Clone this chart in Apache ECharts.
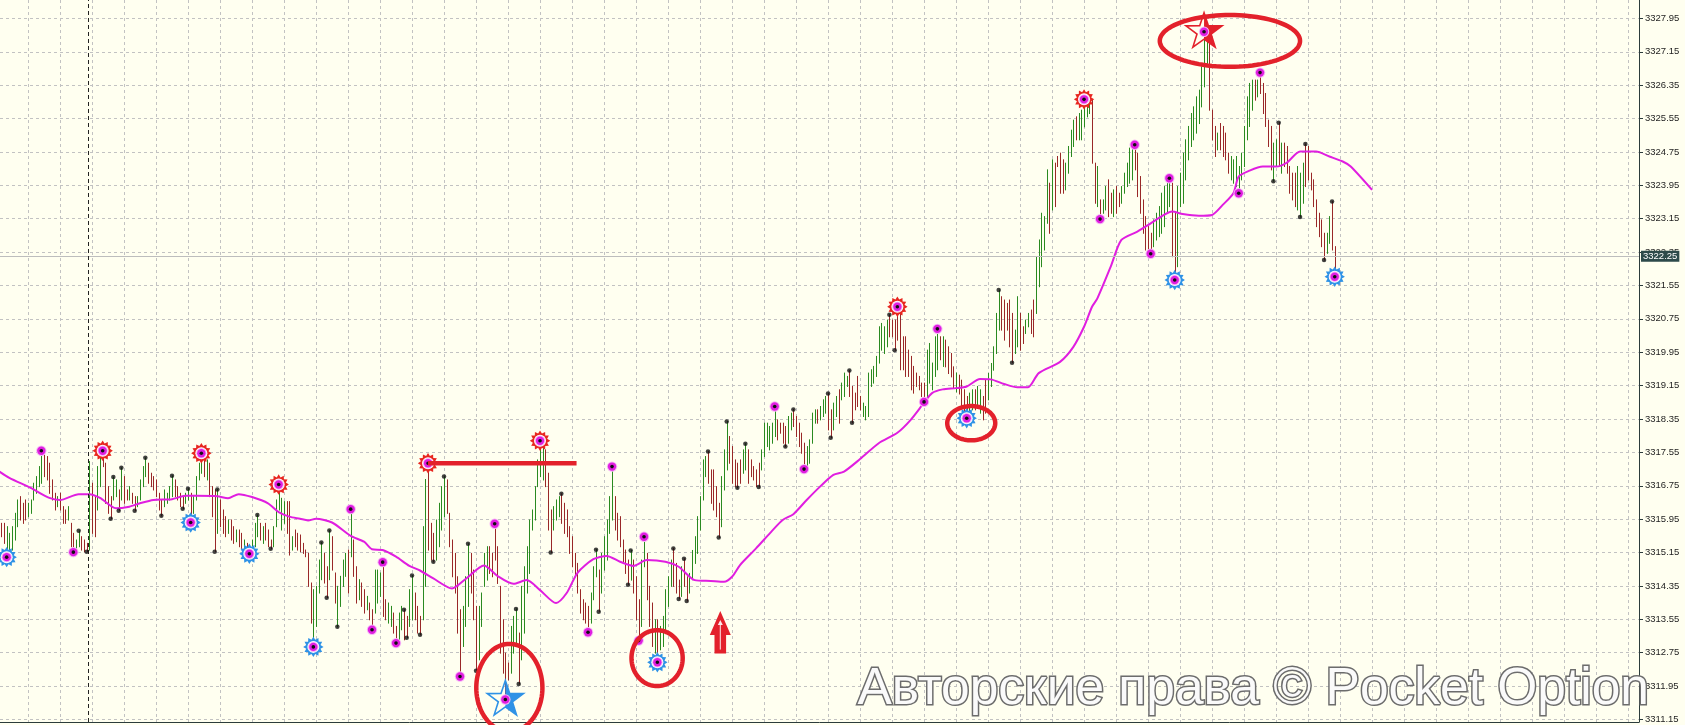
<!DOCTYPE html>
<html><head><meta charset="utf-8">
<script src="https://cdn.jsdelivr.net/npm/echarts@6/dist/echarts.min.js"></script>
<style>html,body{margin:0;padding:0;background:#fffff0;}#c{width:1685px;height:725px;}</style>
</head><body><div id="c"></div>
<script>
// ---------------- DATA (prices) ----------------
const barLow = [
3315.53,3315.37,3315.05,3315.21,3315.21,3315.45,3315.77,3315.93,3315.85,3315.93,
3316.01,3316.09,3316.41,3316.57,3316.73,3316.81,3316.97,3316.89,3316.57,3316.41,
3316.17,3316.25,3316.17,3315.85,3315.85,3315.93,3315.29,3315.16,3315.17,3315.29,
3315.21,3315.17,3315.17,3315.21,3315.61,3315.53,3316.17,3316.73,3317.21,3316.33,
3316.09,3315.96,3316.41,3316.49,3316.15,3316.41,3316.33,3316.41,3316.41,3316.33,
3316.15,3316.25,3316.41,3316.73,3316.97,3316.81,3316.73,3316.65,3316.49,3316.17,
3316.03,3316.25,3316.33,3316.41,3316.49,3316.49,3316.41,3316.25,3316.2,3316.33,
3316.41,3315.87,3316.09,3316.41,3316.89,3317.05,3316.97,3316.89,3316.49,3316.01,
3315.17,3315.61,3315.77,3315.61,3315.53,3315.61,3315.45,3315.37,3315.41,3315.29,
3315.25,3315.21,3315.13,3315.12,3315.17,3315.29,3315.53,3315.45,3315.37,3315.45,
3315.29,3315.24,3315.29,3315.77,3316.17,3315.69,3315.85,3315.61,3315.09,3315.21,
3315.29,3315.21,3315.17,3315.13,3315.05,3314.34,3313.46,3312.89,3313.38,3314.18,
3314.5,3314.42,3314.07,3314.5,3314.73,3313.94,3313.37,3313.86,3314.34,3314.58,
3314.18,3315.05,3314.58,3313.94,3314.02,3313.86,3313.7,3313.78,3313.54,3313.3,
3313.7,3313.94,3314.1,3313.62,3313.54,3313.46,3313.38,3313.22,3312.98,3313.06,
3313.3,3313.06,3313.11,3313.38,3313.54,3313.54,3313.22,3313.18,3313.54,3314.34,
3315.21,3314.97,3314.93,3314.97,3315.29,3315.69,3316.01,3316.09,3315.29,3314.57,
3314.18,3313.22,3312.18,3312.9,3313.38,3313.86,3314.18,3313.54,3312.32,3312.58,
3313.38,3314.34,3314.49,3314.65,3314.57,3314.97,3314.41,3312.74,3312.26,3311.63,
3312.1,3312.26,3312.74,3312.9,3312.0,3312.58,3313.22,3314.18,3314.65,3315.69,
3315.93,3316.73,3316.97,3316.89,3316.73,3315.69,3315.15,3315.69,3315.93,3316.01,
3315.85,3315.61,3315.53,3315.13,3314.81,3314.57,3314.18,3313.7,3313.54,3313.46,
3313.24,3313.46,3314.02,3314.57,3313.73,3314.18,3314.73,3314.97,3315.61,3315.93,
3315.69,3315.45,3315.29,3314.89,3314.65,3314.38,3314.49,3314.18,3313.54,3313.04,
3313.38,3314.81,3314.02,3313.38,3312.9,3312.74,3312.52,3312.82,3312.9,3313.22,
3313.86,3314.34,3314.34,3314.18,3314.04,3314.1,3314.34,3313.99,3314.18,3314.5,
3314.89,3315.13,3315.69,3316.41,3316.97,3316.81,3316.33,3316.17,3316.01,3315.51,
3315.77,3316.65,3317.13,3317.29,3316.81,3316.73,3316.7,3316.81,3317.05,3317.13,
3316.81,3316.97,3316.89,3316.73,3316.72,3317.13,3317.45,3317.69,3317.61,3317.77,
3317.93,3317.85,3318.01,3317.77,3317.69,3317.77,3318.09,3318.17,3317.93,3317.69,
3317.53,3317.15,3317.21,3317.29,3317.77,3318.25,3318.25,3318.33,3318.41,3318.49,
3318.09,3317.9,3318.09,3318.41,3318.25,3318.81,3318.89,3319.13,3318.89,3318.26,
3318.57,3318.65,3318.57,3318.41,3318.33,3318.41,3319.13,3319.21,3319.37,3319.69,
3320.0,3319.92,3320.08,3320.32,3320.32,3320.0,3320.24,3319.53,3319.53,3319.37,
3319.37,3319.05,3318.97,3319.13,3319.05,3318.89,3318.76,3318.89,3319.21,3319.05,
3319.37,3319.53,3319.77,3319.61,3319.6,3319.44,3319.36,3319.1,3319.0,3318.95,
3318.65,3318.49,3318.37,3318.49,3318.57,3318.57,3318.65,3318.49,3318.33,3318.49,
3318.81,3319.13,3319.52,3319.92,3320.48,3320.48,3320.24,3320.48,3320.08,3319.7,
3319.92,3320.08,3320.0,3320.16,3320.4,3320.56,3320.4,3320.32,3320.88,3321.52,
3322.0,3322.4,3323.04,3322.8,3323.36,3323.44,3324.4,3323.76,3323.76,3323.84,
3324.24,3324.64,3324.88,3325.04,3325.04,3325.04,3325.35,3325.59,3325.67,3324.48,
3323.52,3323.44,3323.14,3323.28,3323.36,3323.2,3323.28,3323.2,3323.28,3323.44,
3323.52,3323.76,3323.92,3324.0,3324.08,3324.32,3323.68,3323.28,3322.8,3322.4,
3322.32,3322.31,3322.48,3322.64,3322.72,3322.8,3322.96,3323.28,3323.44,3322.24,
3321.68,3322.0,3323.44,3323.52,3324.08,3324.56,3324.88,3325.04,3325.2,3325.43,
3325.83,3326.31,3326.87,3325.75,3325.04,3324.64,3324.8,3324.8,3324.64,3324.56,
3324.24,3324.08,3324.0,3323.92,3323.76,3324.08,3324.4,3325.04,3325.36,3325.75,
3325.99,3326.07,3326.15,3325.67,3325.36,3324.88,3324.32,3324.05,3324.4,3324.4,
3324.24,3324.4,3324.24,3323.76,3323.6,3323.44,3323.36,3323.19,3323.52,3323.92,
3324.08,3323.84,3323.44,3322.96,3322.72,3322.48,3322.16,3322.32,3322.56,3322.4,3321.76
];
const barHigh = [
3315.85,3315.85,3315.77,3315.61,3315.77,3316.09,3316.41,3316.49,3316.33,3316.41,
3316.33,3316.41,3316.81,3316.97,3317.21,3317.59,3317.53,3317.45,3317.29,3316.89,
3316.57,3316.49,3316.57,3316.25,3316.17,3316.25,3315.85,3315.61,3315.45,3315.67,
3315.53,3315.45,3315.37,3317.33,3316.81,3316.49,3317.21,3317.45,3317.59,3317.29,
3316.73,3316.49,3316.96,3316.89,3316.65,3317.18,3316.97,3316.65,3316.73,3316.57,
3316.49,3316.49,3316.89,3317.21,3317.42,3317.29,3317.05,3316.97,3316.89,3316.57,
3316.41,3316.65,3316.57,3316.73,3316.99,3316.89,3316.73,3316.57,3316.49,3316.57,
3316.68,3316.57,3316.49,3316.97,3317.29,3317.53,3317.53,3317.37,3317.29,3316.73,
3316.65,3316.66,3316.41,3316.17,3316.01,3315.93,3315.93,3315.77,3315.69,3315.69,
3315.61,3315.45,3315.37,3315.29,3315.45,3315.85,3316.05,3315.85,3315.77,3315.85,
3315.69,3315.45,3315.77,3316.41,3316.78,3316.45,3316.37,3316.37,3316.37,3315.53,
3315.69,3315.61,3315.57,3315.37,3315.21,3315.13,3314.42,3314.26,3314.34,3314.97,
3315.39,3315.13,3314.81,3315.68,3315.53,3314.66,3314.34,3314.58,3314.97,3315.13,
3315.21,3316.19,3315.45,3314.81,3314.5,3314.42,3314.26,3314.1,3313.94,3313.78,
3314.73,3314.73,3314.66,3314.92,3314.02,3313.94,3313.86,3313.7,3313.38,3313.7,
3313.86,3313.78,3313.62,3314.26,3314.6,3314.18,3313.86,3313.62,3315.77,3316.9,
3317.29,3315.85,3315.61,3315.93,3316.33,3316.73,3316.97,3316.89,3316.09,3315.45,
3315.13,3314.57,3313.78,3313.86,3314.57,3315.36,3315.13,3314.73,3313.86,3313.86,
3314.18,3315.13,3315.29,3315.29,3315.13,3315.84,3315.29,3314.34,3313.54,3312.74,
3312.5,3313.38,3313.62,3313.8,3313.22,3314.34,3314.81,3315.29,3315.93,3316.17,
3316.73,3317.37,3317.83,3317.77,3317.61,3317.05,3316.17,3316.25,3316.41,3316.49,
3316.56,3316.33,3316.17,3315.77,3315.53,3315.13,3314.89,3314.26,3314.02,3313.94,
3313.86,3314.18,3314.81,3315.22,3314.73,3315.13,3315.53,3315.93,3316.49,3317.21,
3316.49,3316.09,3316.01,3315.45,3315.21,3314.97,3315.2,3314.97,3314.57,3314.02,
3314.97,3315.53,3315.13,3314.34,3313.94,3313.54,3313.54,3313.38,3313.62,3314.26,
3314.57,3314.97,3315.25,3314.89,3314.49,3314.81,3315.0,3314.57,3314.65,3315.2,
3315.53,3316.01,3316.49,3317.37,3317.45,3317.57,3317.13,3317.13,3316.73,3316.33,
3316.97,3317.61,3318.29,3317.93,3317.69,3317.37,3317.29,3317.37,3317.61,3317.76,
3317.61,3317.37,3317.21,3317.13,3317.29,3317.61,3318.25,3318.25,3318.17,3318.25,
3318.65,3318.33,3318.25,3318.25,3318.17,3318.41,3318.49,3318.58,3318.41,3318.25,
3318.01,3317.77,3317.69,3317.85,3318.49,3318.57,3318.57,3318.65,3318.81,3318.89,
3318.96,3318.57,3318.73,3318.89,3319.05,3319.21,3319.45,3319.37,3319.51,3319.13,
3318.97,3319.37,3318.89,3318.73,3318.65,3319.45,3319.53,3319.61,3319.85,3320.56,
3320.64,3320.56,3320.72,3320.85,3320.72,3320.72,3321.04,3320.88,3320.32,3320.32,
3320.0,3319.85,3319.61,3319.45,3319.37,3319.21,3319.21,3320.0,3320.16,3319.69,
3320.32,3320.51,3320.32,3320.32,3320.24,3320.08,3319.92,3319.6,3319.45,3319.4,
3319.28,3319.05,3318.89,3318.97,3319.05,3319.05,3319.13,3319.05,3318.89,3319.28,
3319.44,3319.68,3320.08,3320.88,3321.44,3321.28,3321.2,3321.12,3321.2,3320.88,
3320.48,3321.28,3320.88,3320.56,3320.72,3320.88,3320.96,3321.2,3322.24,3322.64,
3323.28,3323.2,3324.32,3324.0,3324.56,3324.48,3324.64,3324.72,3324.56,3324.48,
3324.88,3325.27,3325.51,3325.59,3325.67,3325.75,3326.01,3325.91,3325.91,3325.99,
3324.48,3324.4,3323.6,3323.6,3323.92,3324.08,3323.76,3323.84,3323.92,3323.76,
3323.92,3324.24,3324.48,3324.84,3324.88,3324.92,3324.72,3324.16,3323.6,3323.2,
3322.96,3322.8,3323.12,3323.28,3323.44,3323.76,3323.92,3324.08,3324.12,3324.0,
3323.28,3323.92,3324.24,3324.72,3325.04,3325.36,3325.67,3325.83,3326.07,3326.23,
3326.79,3327.63,3327.59,3327.35,3325.75,3325.36,3325.2,3325.43,3325.36,3325.2,
3324.72,3324.64,3324.56,3324.64,3324.4,3324.72,3325.36,3326.07,3326.39,3326.47,
3326.47,3326.47,3326.65,3326.39,3326.15,3325.51,3325.36,3324.96,3325.04,3325.45,
3324.96,3324.96,3324.88,3324.4,3324.24,3324.24,3324.4,3324.24,3324.48,3324.94,
3324.88,3324.24,3324.08,3323.6,3323.28,3323.12,3322.8,3322.8,3323.2,3323.56,3322.48
];
// U = bullish (green) bar, D = bearish (red) bar
const barDir =
"DDUUUUUDDD"+"UUUUUUDDDD"+"DUDDDUDDUU"+"DDDUDDUUDD"+"DDUUDUDDUD"+
"DUUUUDDDDD"+"DUUUUDDDDU"+"UDUUUUDUDD"+"DUDDDUDDUD"+"DUDDUUUDUD"+
"DDUUUUUDDU"+"DDDDDDDUUU"+"UDDUDDUUUU"+"DUDDUDDUDD"+"UUUDDUUDDU"+
"UDDUUDDDUU"+"DDDUUUUDDD"+"DDDUUUDDDU"+"UUUDDDDDDD"+"DUUUDUUUUU"+
"UUUUDDDUUU"+"DDDDDDDDDD"+"DUUUDUUUUU"+"DDDDDDUDDD"+"UUDDDUDUUU"+
"UUDDDUDDUU"+"UUUUUDDDDD"+"UUUDDDDDUU"+"DDDDDUUUUU"+"UDDDDUUDDD"+
"DDUUUUDUUU"+"DDUUDUUUDD"+"DDDUUUUUUU"+"UUUDDDDDDD"+"DDDDDDDUUU"+
"UUDUDDDDUD"+"DDDUUDUUDD"+"UUUUUDDDDD"+"UUDDUUDDUU"+"UUUDUDDDDU"+
"UUUDUUUUUD"+"DUDUUDDUDD"+"UUUUUDDDDD"+"DDUUUUUUUD"+"DUUUUUUUUU"+
"UUUDDDUDDD"+"DUUUUUUUUU"+"DUDDDDDUUD"+"UDDDDDUUUD"+"DDDDDDDUUDD";

// moving average (bar index, value); it is drawn shifted ahead of price
const maBar = [-1,3,11,18,22,29,33,37,43,48,52,57,64,69,73,81,85,89,94,100,104,108,112,115,118,124,131,136,139,143,148,153,157,162,169,174,181,186,192,197,202,208,212,216,222,227,232,237,242,249,254,260,266,271,274,277,283,289,293,297,302,307,312,316,322,329,336,341,346,349,353,358,362,367,371,376,381,385,389,397,402,406,409,411,416,420,426,431,436,439,443,449,454,458,462,464,468,473,478,482,487,493,498,503,506,514];
const maValue = [3317.1,3316.94,3316.7,3316.46,3316.41,3316.55,3316.55,3316.46,3316.21,3316.25,3316.33,3316.41,3316.43,3316.51,3316.51,3316.5,3316.45,3316.55,3316.48,3316.33,3316.12,3316.01,3315.96,3315.92,3315.96,3315.87,3315.55,3315.41,3315.23,3315.21,3315.05,3314.83,3314.72,3314.53,3314.29,3314.51,3314.84,3314.59,3314.4,3314.49,3314.25,3313.94,3314.18,3314.66,3314.99,3315.07,3314.93,3314.83,3314.97,3314.93,3314.81,3314.49,3314.47,3314.45,3314.57,3314.85,3315.25,3315.67,3315.93,3316.07,3316.41,3316.73,3317.01,3317.09,3317.39,3317.77,3318.02,3318.33,3318.74,3318.97,3319.06,3319.09,3319.13,3319.31,3319.3,3319.19,3319.11,3319.11,3319.45,3319.72,3320.08,3320.56,3321.04,3321.24,3322.0,3322.64,3322.84,3323.04,3323.24,3323.32,3323.26,3323.22,3323.24,3323.48,3323.76,3324.16,3324.3,3324.4,3324.4,3324.49,3324.76,3324.76,3324.64,3324.52,3324.4,3323.84];

// small black swing dots
const dotBar = [29,32,41,42,44,45,50,54,60,64,68,70,80,81,96,101,120,122,123,126,151,152,154,157,162,166,175,178,193,194,206,210,223,224,235,236,252,254,256,257,265,269,272,276,279,284,294,297,310,311,318,319,333,335,374,379,477,479,487,489,496,499];
const dotPrice = [3315.67,3315.17,3315.96,3316.96,3316.15,3317.18,3316.15,3317.42,3316.03,3316.99,3316.2,3316.68,3315.17,3316.66,3316.05,3315.24,3315.39,3314.07,3315.68,3313.37,3313.78,3313.11,3314.6,3313.18,3314.93,3316.97,3315.36,3312.32,3313.8,3312.0,3315.15,3316.56,3315.22,3313.73,3314.38,3315.2,3315.25,3314.04,3315.0,3313.99,3317.57,3315.51,3318.29,3316.7,3317.76,3316.72,3317.69,3318.58,3318.96,3317.9,3319.51,3318.26,3320.85,3320.0,3321.44,3319.7,3324.05,3325.45,3323.19,3324.94,3322.16,3323.56];
// magenta fractal circles
const magBar = [15,27,131,139,143,148,172,185,220,229,239,241,290,301,346,351,412,425,431,438,464,472];
const magPrice = [3317.59,3315.16,3316.19,3313.3,3314.92,3312.98,3312.18,3315.84,3313.24,3317.21,3313.04,3315.53,3318.65,3317.15,3318.76,3320.51,3323.14,3324.92,3322.31,3324.12,3323.76,3326.65];
// red gear tops and blue gear bottoms
const topGearBar = [38,75,104,160,202,336,406];
const topGearPrice = [3317.59,3317.53,3316.78,3317.29,3317.83,3321.04,3326.01];
const botGearBar = [2,71,93,117,246,362,440,500];
const botGearPrice = [3315.04,3315.87,3315.12,3312.89,3312.52,3318.37,3321.68,3321.76];
// stars
const topStar = [451, 3327.63];
const botStar = [189, 3311.63];
// hand-drawn annotations: ellipses [centre bar, centre price, half-width in bars, half-height in price]
const ellipseBar = [460.7, 190.5, 245.9, 363.7];
const ellipsePrice = [3327.41, 3311.91, 3312.62, 3318.25];
const ellipseHalfBars = [26.3, 12.4, 9.6, 9.0];
const ellipseHalfPrice = [0.62, 1.05, 0.67, 0.41];
const levelLine = [160, 215.7, 3317.29];     // from bar, to bar, price
const upArrow = [269.6, 3313.75, 3312.73];   // bar, tip price, tail price
const separatorBar = 32.6;
const currentPrice = 3322.25;
const priceTicksFrom = 3311.15, priceTickStep = 0.8;
const watermark = 'Авторские права © Pocket Option';

// ---------------- CHART ----------------
const BAR_SHIFT = -10;              // puts the 12-bar time grid on multiples of 12
const Y_LO = 3311.09, Y_HI = 3328.39;
const GREEN = '#2a8a20', RED = '#992828', MAG = '#e01ee0', ANN = '#e3212b', BLUE = '#2f92e6';
const X = b => b + BAR_SHIFT;
const Y = p => p - priceTicksFrom;

function magentaDot(c) {
  return [
    {type:'circle', shape:{cx:c[0],cy:c[1],r:5.2}, style:{fill:'#f6b8f6'}},
    {type:'circle', shape:{cx:c[0],cy:c[1],r:4.2}, style:{fill:MAG}},
    {type:'circle', shape:{cx:c[0],cy:c[1],r:1.8}, style:{fill:'#111'}}
  ];
}
function gearRenderer(color) {
  return function (params, api) {
    const c = api.coord([api.value(0), api.value(1)]);
    const pts = [], n = 12;
    for (let k = 0; k < n * 2; k++) {
      const r = k % 2 === 0 ? 10.2 : 7.4;
      const a = Math.PI * k / n - Math.PI / 2;
      pts.push([c[0] + r * Math.cos(a), c[1] + r * Math.sin(a)]);
    }
    return {type:'group', children:[
      {type:'polygon', shape:{points:pts}, style:{fill:color}},
      {type:'circle', shape:{cx:c[0],cy:c[1],r:6.0}, style:{fill:'#ffffff'}}
    ].concat(magentaDot(c))};
  };
}
function starRenderer(color) {
  return function (params, api) {
    const c = api.coord([api.value(0), api.value(1)]);
    const R = 19, r = 7.4, pts = [];
    for (let k = 0; k < 10; k++) {
      const rr = k % 2 ? r : R, a = -Math.PI / 2 + k * Math.PI / 5;
      pts.push([c[0] + rr * Math.cos(a), c[1] + rr * Math.sin(a)]);
    }
    const half = pts.map(p => [Math.max(p[0], c[0]), p[1]]);
    return {type:'group', children:[
      {type:'polygon', shape:{points:half}, style:{fill:color}},
      {type:'polygon', shape:{points:pts}, style:{fill:null, stroke:color, lineWidth:1.6}}
    ].concat(magentaDot(c))};
  };
}

const chart = echarts.init(document.getElementById('c'), null, {renderer:'canvas'});
chart.setOption({
  animation: false,
  backgroundColor: '#fffff0',
  grid: {left: 0, right: 46, top: 0, bottom: 3},
  xAxis: {
    type: 'value', min: X(-0.5), max: X(614.1), minInterval: 12, maxInterval: 12,
    axisLine: {show: true, onZero: false, lineStyle: {color: '#2c3c3c', width: 1}},
    axisTick: {show: false}, axisLabel: {show: false},
    splitLine: {show: true, showMinLine: false, showMaxLine: false, lineStyle: {color: '#c2c2c2', type: [3, 3], width: 1}}
  },
  yAxis: {
    type: 'value', position: 'right', min: Y(Y_LO), max: Y(Y_HI),
    minInterval: priceTickStep, maxInterval: priceTickStep,
    axisLine: {show: true, onZero: false, lineStyle: {color: '#2c3c3c', width: 1}},
    axisTick: {show: true, length: 4, lineStyle: {color: '#2c3c3c'}},
    axisLabel: {
      show: true, margin: 6, showMinLabel: false, showMaxLabel: false,
      color: '#1e1e1e', fontSize: 9.5, fontFamily: '"Liberation Sans", Arial, sans-serif',
      formatter: v => {
        const k = Math.round(v / priceTickStep);
        if (Math.abs(v - k * priceTickStep) > 0.01) return '';
        return (priceTicksFrom + k * priceTickStep).toFixed(2);
      }
    },
    splitLine: {show: true, showMinLine: false, showMaxLine: false, lineStyle: {color: '#c2c2c2', type: [3, 3], width: 1}}
  },
  graphic: [{
    type: 'text', left: 856, top: 662, z: 100, silent: true,
    style: {
      text: watermark, font: '51.5px "Liberation Sans", Arial, sans-serif',
      fill: '#fafafa', stroke: '#6c6c6c', lineWidth: 3,
      shadowBlur: 4, shadowColor: 'rgba(0,0,0,0.35)', shadowOffsetX: 1, shadowOffsetY: 1
    }
  }],
  series: [
    { // price bars
      type: 'custom', z: 2, silent: true,
      encode: {x: 0, y: [1, 2]},
      data: barLow.map((lo, i) => [X(i), Y(lo), Y(barHigh[i]), barDir[i] === 'U' ? 1 : -1]),
      renderItem: (params, api) => {
        const x = api.value(0);
        const a = api.coord([x, api.value(1)]), b = api.coord([x, api.value(2)]);
        const px = Math.round(a[0]) + 0.5;
        return {type: 'line', shape: {x1: px, y1: a[1] + 0.5, x2: px, y2: b[1] - 0.5},
                style: {stroke: api.value(3) > 0 ? GREEN : RED, lineWidth: 1}};
      },
      markLine: {
        silent: true, symbol: 'none', animation: false,
        data: [
          {yAxis: Y(currentPrice), lineStyle: {color: '#bdbdbd', type: 'solid', width: 1},
           label: {show: true, position: 'end', distance: 2, formatter: currentPrice.toFixed(2),
                   color: '#ffffff', backgroundColor: '#2d4a4a', padding: [1, 2, 0, 2],
                   fontSize: 9.5, fontFamily: '"Liberation Sans", Arial, sans-serif'}},
          {xAxis: X(separatorBar), lineStyle: {color: '#222', type: [4, 3], width: 1}, label: {show: false}}
        ]
      }
    },
    { // moving average
      type: 'line', z: 3, silent: true, showSymbol: false, smooth: 0.25,
      data: maBar.map((b, i) => [X(b), Y(maValue[i])]),
      lineStyle: {color: MAG, width: 2}
    },
    { // swing dots
      type: 'scatter', z: 5, silent: true, symbolSize: 4.5,
      data: dotBar.map((b, i) => [X(b), Y(dotPrice[i])]),
      itemStyle: {color: '#111'}
    },
    { // magenta circles
      type: 'custom', z: 6, silent: true, encode: {x: 0, y: 1},
      data: magBar.map((b, i) => [X(b), Y(magPrice[i])]),
      renderItem: (params, api) => ({type: 'group', children: magentaDot(api.coord([api.value(0), api.value(1)]))})
    },
    { type: 'custom', z: 6, silent: true, encode: {x: 0, y: 1},
      data: topGearBar.map((b, i) => [X(b), Y(topGearPrice[i])]), renderItem: gearRenderer('#e8261f') },
    { type: 'custom', z: 6, silent: true, encode: {x: 0, y: 1},
      data: botGearBar.map((b, i) => [X(b), Y(botGearPrice[i])]), renderItem: gearRenderer(BLUE) },
    { type: 'custom', z: 7, silent: true, encode: {x: 0, y: 1},
      data: [[X(topStar[0]), Y(topStar[1])]], renderItem: starRenderer(ANN) },
    { type: 'custom', z: 7, silent: true, encode: {x: 0, y: 1},
      data: [[X(botStar[0]), Y(botStar[1])]], renderItem: starRenderer(BLUE) },
    { // ellipses
      type: 'custom', z: 8, silent: true, encode: {x: 0, y: 1},
      data: ellipseBar.map((b, i) => [X(b), Y(ellipsePrice[i]), ellipseHalfBars[i], ellipseHalfPrice[i]]),
      renderItem: (params, api) => {
        const c = api.coord([api.value(0), api.value(1)]);
        const s = api.size([api.value(2), api.value(3)]);
        const pts = [];
        for (let k = 0; k < 96; k++) {
          const a = 2 * Math.PI * k / 96;
          pts.push([c[0] + s[0] * Math.cos(a), c[1] + s[1] * Math.sin(a)]);
        }
        return {type: 'polygon', shape: {points: pts}, style: {fill: null, stroke: ANN, lineWidth: 4.5}};
      }
    },
    { // horizontal level
      type: 'custom', z: 8, silent: true, encode: {x: [0, 1], y: 2},
      data: [[X(levelLine[0]), X(levelLine[1]), Y(levelLine[2])]],
      renderItem: (params, api) => {
        const a = api.coord([api.value(0), api.value(2)]), b = api.coord([api.value(1), api.value(2)]);
        return {type: 'line', shape: {x1: a[0], y1: a[1], x2: b[0], y2: b[1]}, style: {stroke: ANN, lineWidth: 4.5}};
      }
    },
    { // up arrow
      type: 'custom', z: 8, silent: true, encode: {x: 0, y: [1, 2]},
      data: [[X(upArrow[0]), Y(upArrow[1]), Y(upArrow[2])]],
      renderItem: (params, api) => {
        const t = api.coord([api.value(0), api.value(1)]), e = api.coord([api.value(0), api.value(2)]);
        const x = t[0], y0 = t[1], y1 = e[1], hh = 24, hw = 10.5, sw = 5.8;
        return {type: 'group', children: [
          {type: 'polygon', shape: {points: [[x, y0], [x + hw, y0 + hh], [x + sw, y0 + hh], [x + sw, y1], [x - sw, y1], [x - sw, y0 + hh], [x - hw, y0 + hh]]},
           style: {fill: ANN}},
          {type: 'line', shape: {x1: x, y1: y0 + 12, x2: x, y2: y1 - 4}, style: {stroke: '#fbe9e9', lineWidth: 1}},
          {type: 'polygon', shape: {points: [[x, y0 + 9], [x + 2.5, y0 + 14], [x - 2.5, y0 + 14]]}, style: {fill: '#fbe9e9'}}
        ]};
      }
    }
  ]
});
</script>
</body></html>
